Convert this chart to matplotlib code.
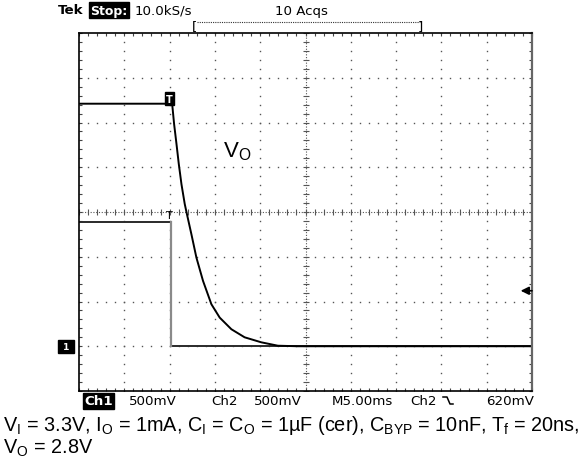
import numpy as np
import matplotlib
matplotlib.use("Agg")
import matplotlib.pyplot as plt
from matplotlib.lines import Line2D
import matplotlib.transforms as mtransforms

# ---- data read from the scope capture (time in ms, voltage in V) ----
t_vo = [-10, 0.28, 0.50, 0.76, 1.01, 1.31, 1.67, 1.86, 2.41, 2.96, 3.69,
        4.61, 5.53, 6.82, 8.28, 10.12, 11.95, 14.15, 40]
v_vo = [2.71, 2.71, 2.48, 2.26, 2.04, 1.81, 1.59, 1.50, 1.25, 0.99, 0.73,
        0.47, 0.32, 0.19, 0.10, 0.044, 0.006, 0.0, 0.0]
t_ch2 = [-10, 0.2, 0.2, 40]
v_ch2 = [1.39, 1.39, 0.0, 0.0]
trig_time = 0.0
trig_level = 0.62
header = ["Tek", "Stop:", "10.0kS/s", "10 Acqs"]
status = ["Ch1", "500mV", "Ch2", "500mV", "M5.00ms", "Ch2", "620mV"]
caption1 = (r"V$_I$ = 3.3V, I$_O$ = 1mA, C$_I$ = C$_O$ = 1µF (cer), "
            r"C$_{BYP}$ = 10nF, T$_f$ = 20ns,")
caption2 = r"V$_O$ = 2.8V"
trace_label = r"V$_O$"

plt.rcParams['mathtext.default'] = 'regular'
W, H = 582, 460
fig = plt.figure(figsize=(W / 100, H / 100), dpi=100)

def px(x, y):
    return x / W, 1 - y / H

L, R, T, B = 79, 532, 34, 392
ax = fig.add_axes([L / W, 1 - B / H, (R - L) / W, (B - T) / H])
ax.set_xlim(-10, 40)
ax.set_ylim(-0.5, 3.5)
ax.set_xticks(np.arange(-10, 40.1, 5))
ax.set_yticks(np.arange(-0.5, 3.51, 0.5))
ax.set_xticks(np.arange(-10, 40.1, 1), minor=True)
ax.set_yticks(np.arange(-0.5, 3.51, 0.1), minor=True)
ax.tick_params(which='both', direction='in', top=True, right=True,
               labelbottom=False, labelleft=False, length=2.5, width=0.8,
               color='#444444')
for s in ax.spines.values():
    s.set_linewidth(1.2)
    s.set_color('black')
ax.spines['right'].set_color('#666666')
ax.spines['right'].set_linewidth(1.6)

# graticule dots
ygrid_pts = np.arange(-0.5, 3.51, 0.1)
xgrid_pts = np.arange(-10, 40.01, 1)
for xg in np.arange(-5, 40, 5):
    if xg == 15:
        continue
    ax.plot([xg] * len(ygrid_pts), ygrid_pts, ls='', marker='s', ms=1.0,
            color='#555555', mew=0)
for yg in np.arange(0, 3.5, 0.5):
    if abs(yg - 1.5) < 1e-9:
        continue
    ax.plot(xgrid_pts, [yg] * len(xgrid_pts), ls='', marker='s', ms=1.0,
            color='#555555', mew=0)
# center crosshair
ax.axvline(15, ls=(0, (1, 1.5)), lw=0.8, color='#555555')
ax.axhline(1.5, ls=(0, (1, 1.5)), lw=0.8, color='#555555')
ax.plot(xgrid_pts, [1.5] * len(xgrid_pts), ls='', marker='|', ms=4,
        color='#555555', mew=0.8)
ax.plot([15] * len(ygrid_pts), ygrid_pts, ls='', marker='_', ms=4,
        color='#555555', mew=0.8)

# traces (steady parts bright, fast edge dim as on the scope screen)
ax.plot(t_ch2, v_ch2, color='#2a2a2a', lw=1.4, solid_joinstyle='miter')
ax.plot(t_ch2[1:3], v_ch2[1:3], color='#8a8a8a', lw=1.6)
ax.plot(t_vo, v_vo, color='black', lw=1.4)

# trigger markers
ax.text(trig_time, v_vo[0], "T", color='white', fontsize=7, fontweight='bold',
        ha='center', va='bottom', family='DejaVu Sans',
        bbox=dict(boxstyle='square,pad=0.15', fc='black', ec='black'))
ax.text(trig_time, v_ch2[0] + 0.02, "T", color='black', fontsize=8,
        ha='center', va='bottom', family='DejaVu Sans')

# ground marker
blend = mtransforms.blended_transform_factory(ax.transAxes, ax.transData)
ax.text(-0.014, 0.0, " 1 ", color='white', fontsize=6.5, fontweight='bold',
        ha='right', va='center', family='DejaVu Sans', transform=blend,
        bbox=dict(boxstyle='square,pad=0.2', fc='black', ec='black'),
        clip_on=False)
# trigger level arrow
ax.annotate('', xy=(0.975, trig_level), xytext=(1.0, trig_level),
            xycoords=blend, textcoords=blend,
            arrowprops=dict(arrowstyle='-|>', color='black', lw=1.2,
                            mutation_scale=12, shrinkA=0, shrinkB=0))

# trace label
ax.text(*px(223, 157), trace_label, transform=fig.transFigure, fontsize=16,
        family='Liberation Sans', ha='left', va='baseline')

# header
mono = dict(family='DejaVu Sans', fontsize=9.6, va='center', ha='left')
fig.text(*px(58, 11), header[0], fontweight='bold', **mono)
fig.text(*px(90, 11), header[1], color='white', fontweight='bold',
         family='DejaVu Sans', fontsize=9.0, va='center', ha='left',
         bbox=dict(boxstyle='square,pad=0.1', fc='black', ec='black'))
fig.text(*px(135, 11), header[2], **mono)
fig.text(*px(275, 11), header[3], **mono)
fig.text(*px(192, 27), "[", **mono)
fig.text(*px(418, 27), "]", **mono)
fig.add_artist(Line2D([197 / W, 420 / W], [1 - 22.5 / H, 1 - 22.5 / H],
                      ls=(0, (1, 1)), lw=0.8, color='#333333'))

# status line
ys = 402
fig.text(*px(84, ys), status[0], color='white', fontweight='bold',
         bbox=dict(boxstyle='square,pad=0.1', fc='black', ec='black'), **mono)
fig.text(*px(129, ys), status[1], **mono)
fig.text(*px(211, ys), status[2], **mono)
fig.text(*px(254, ys), status[3], **mono)
fig.text(*px(332, ys), status[4], **mono)
fig.text(*px(410, ys), status[5], **mono)
fig.add_artist(Line2D([443 / W, 447 / W, 450 / W, 453 / W],
                      [1 - 398 / H, 1 - 398 / H, 1 - 405 / H, 1 - 405 / H],
                      lw=1.1, color='black'))
fig.text(*px(486, ys), status[6], **mono)

# caption
cap = dict(family='Liberation Sans', fontsize=14.3, ha='left', va='baseline')
fig.text(*px(3, 431), caption1, **cap)
fig.text(*px(3, 454), caption2, **cap)

fig.savefig("out.png", dpi=100)
